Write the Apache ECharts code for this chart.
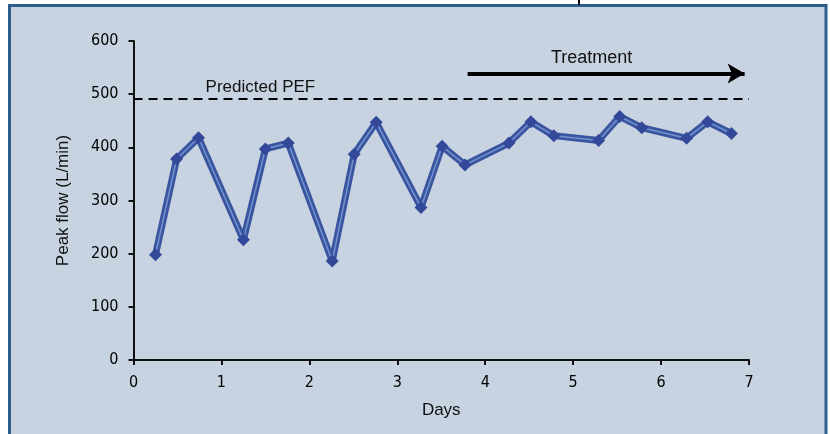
<!DOCTYPE html>
<html>
<head>
<meta charset="utf-8">
<script src="https://cdn.jsdelivr.net/npm/echarts@6/dist/echarts.min.js"></script>
<style>
html,body{margin:0;padding:0;background:#fff;}
#c{width:830px;height:434px;}
</style>
</head>
<body>
<div id="c"></div>
<script>
// Data
const days = [0.25, 0.49, 0.74, 1.25, 1.50, 1.76, 2.26, 2.51, 2.76, 3.27, 3.51, 3.77, 4.27, 4.52, 4.78, 5.29, 5.53, 5.78, 6.29, 6.53, 6.80];
const peakFlow = [198, 378, 418, 226, 397, 408, 186, 387, 447, 287, 402, 367, 408, 448, 422, 413, 458, 437, 417, 448, 426];
const predictedPEF = 491;
const treatmentStart = 3.80;
const treatmentEnd = 6.95;
const treatmentLevel = 539;
const xTicks = [0, 1, 2, 3, 4, 5, 6, 7];
const yTicks = [0, 100, 200, 300, 400, 500, 600];

const points = days.map((d, i) => [d, peakFlow[i]]);
const narrow = "'Liberation Sans Narrow','DejaVu Sans Condensed','Roboto Condensed',sans-serif";
const sans = "'Liberation Sans',Arial,sans-serif";

const chart = echarts.init(document.getElementById('c'), null, {renderer: 'canvas'});
chart.setOption({
  animation: false,
  backgroundColor: '#ffffff',
  grid: {left: 133.5, right: 81, top: 41, bottom: 74},
  xAxis: {
    type: 'value', min: xTicks[0], max: xTicks[xTicks.length - 1], interval: 1,
    name: 'Days', nameLocation: 'middle', nameGap: 42,
    nameTextStyle: {fontFamily: sans, fontSize: 17, color: '#111'},
    axisLine: {lineStyle: {color: '#111', width: 2}},
    axisTick: {show: true, inside: false, length: 5, lineStyle: {color: '#111', width: 2}},
    axisLabel: {fontFamily: narrow, fontSize: 16, color: '#000', margin: 15},
    splitLine: {show: false}
  },
  yAxis: {
    type: 'value', min: yTicks[0], max: yTicks[yTicks.length - 1], interval: 100,
    name: 'Peak flow (L/min)', nameLocation: 'middle', nameGap: 62,
    nameTextStyle: {fontFamily: sans, fontSize: 17, color: '#111'},
    axisLine: {show: true, lineStyle: {color: '#111', width: 2}},
    axisTick: {show: true, inside: false, length: 5, lineStyle: {color: '#111', width: 2}},
    axisLabel: {fontFamily: narrow, fontSize: 16, color: '#000', margin: 15},
    splitLine: {show: false}
  },
  series: [
    {
      type: 'line', data: points, symbol: 'none', z: 2,
      lineStyle: {color: '#3a55a0', width: 7},
      markLine: {
        silent: true, symbol: ['none', 'none'],
        label: {show: false},
        lineStyle: {color: '#000', type: [9, 6], width: 2},
        data: [{yAxis: predictedPEF}]
      }
    },
    {
      type: 'line', data: points, symbol: 'diamond', symbolSize: 13, z: 3,
      itemStyle: {color: '#34489a'},
      lineStyle: {color: '#7592cf', width: 1.5},
      markLine: {
        silent: true, symbol: ['none', 'arrow'], symbolSize: [15, 17],
        label: {show: false},
        lineStyle: {color: '#000', type: 'solid', width: 4},
        data: [[{coord: [treatmentStart, treatmentLevel]}, {coord: [treatmentEnd, treatmentLevel]}]]
      }
    }
  ]
});

const pPred = chart.convertToPixel({gridIndex: 0}, [0.82, predictedPEF]);
const pTreat = chart.convertToPixel({gridIndex: 0}, [5.21, treatmentLevel]);
chart.setOption({
  graphic: [
    {type: 'rect', z: -10, silent: true,
     shape: {x: 9.5, y: 5.5, width: 816.5, height: 440},
     style: {fill: '#c7d3e1', stroke: '#2d5e89', lineWidth: 3}},
    {type: 'line', z: -9, shape: {x1: 579, y1: 0, x2: 579, y2: 5}, style: {stroke: '#000', lineWidth: 2}},
    {type: 'text', x: pPred[0], y: pPred[1] - 3, z: 10,
     style: {text: 'Predicted PEF', font: "17px 'Liberation Sans',Arial,sans-serif", fill: '#111', textAlign: 'left', textVerticalAlign: 'bottom'}},
    {type: 'text', x: pTreat[0], y: pTreat[1] - 6, z: 10,
     style: {text: 'Treatment', font: "18px 'Liberation Sans',Arial,sans-serif", fill: '#111', textAlign: 'center', textVerticalAlign: 'bottom'}}
  ]
});
</script>
</body>
</html>
